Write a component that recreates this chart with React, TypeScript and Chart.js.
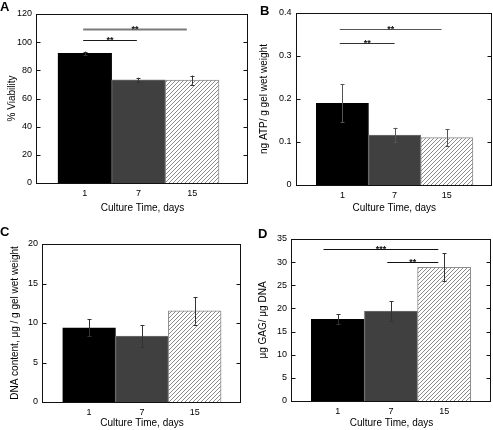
import { useEffect, useRef } from 'react';
import { Chart, registerables } from 'chart.js';

Chart.register(...registerables);

// ---------- data ----------
const categories = ['1', '7', '15'];
const categoryPositions = [1, 2, 3];
const xTitle = 'Culture Time, days';

const viabilityValues = [92.1, 73.2, 73.0];
const viabilityErrors = [1.2, 1.6, 3.3];
const viabilityTicks = [0, 20, 40, 60, 80, 100, 120];
// [from, to, y, label]
const viabilitySig: [number, number, number, string][] = [
  [0.97, 2.9, 109.4, '**'],
  [0.97, 1.97, 101.6, '**'],
];

const atpValues = [0.19, 0.116, 0.11];
const atpErrors = [0.044, 0.017, 0.02];
const atpTicks = [0, 0.1, 0.2, 0.3, 0.4];
const atpSig: [number, number, number, string][] = [
  [0.95, 2.9, 0.362, '**'],
  [0.95, 2.0, 0.3295, '**'],
];

const dnaValues = [9.4, 8.35, 11.55];
const dnaErrors = [1.05, 1.4, 1.75];
const dnaTicks = [0, 5, 10, 15, 20];
const dnaSig: [number, number, number, string][] = [];

const gagValues = [17.65, 19.45, 28.9];
const gagErrors = [1.1, 2.15, 3.0];
const gagTicks = [0, 5, 10, 15, 20, 25, 30, 35];
const gagSig: [number, number, number, string][] = [
  [0.73, 2.89, 32.77, '***'],
  [1.93, 2.89, 29.97, '**'],
];

// ---------- styles / layout ----------
const FONT = "'Liberation Sans', Arial, Helvetica, sans-serif";

type Panel = {
  letter: string;
  yTitle: string;
  values: number[];
  errors: number[];
  ticks: number[];
  sig: [number, number, number, string][];
  box: { x: number; y: number; w: number; h: number };
  yWidth: number;
  xHeight: number;
  padTop: number;
  padRight: number;
  yTitlePad: number;
  xMin: number;
  xMax: number;
  letterPos: [number, number];
  sigColors: string[];
  errColor: string;
};

const panels: Panel[] = [
  {
    letter: 'A', yTitle: '% Viability', values: viabilityValues, errors: viabilityErrors,
    ticks: viabilityTicks, sig: viabilitySig,
    box: { x: 0, y: 0, w: 252, h: 215 }, yWidth: 37, xHeight: 32, padTop: 14, padRight: 4,
    yTitlePad: 6, xMin: 0.11, xMax: 4.04, letterPos: [0, 11],
    sigColors: ['#7a7a7a', '#1a1a1a'], errColor: '#333',
  },
  {
    letter: 'B', yTitle: 'ng ATP/ g gel wet weight', values: atpValues, errors: atpErrors,
    ticks: atpTicks, sig: atpSig,
    box: { x: 252, y: 0, w: 241, h: 215 }, yWidth: 44.5, xHeight: 30, padTop: 13, padRight: 1,
    yTitlePad: 6, xMin: 0.121, xMax: 3.866, letterPos: [8, 15],
    sigColors: ['#555', '#333'], errColor: '#555',
  },
  {
    letter: 'C', yTitle: 'DNA content, \u03bcg / g gel wet weight', values: dnaValues, errors: dnaErrors,
    ticks: dnaTicks, sig: dnaSig,
    box: { x: 0, y: 215, w: 252, h: 215 }, yWidth: 43, xHeight: 28, padTop: 29, padRight: 11,
    yTitlePad: 9.5, xMin: 0.127, xMax: 3.877, letterPos: [0, 21],
    sigColors: [], errColor: '#333',
  },
  {
    letter: 'D', yTitle: '\u03bcg GAG/ \u03bcg DNA', values: gagValues, errors: gagErrors,
    ticks: gagTicks, sig: gagSig,
    box: { x: 252, y: 215, w: 241, h: 215 }, yWidth: 40, xHeight: 29, padTop: 24, padRight: 2,
    yTitlePad: 5.3, xMin: 0.137, xMax: 3.882, letterPos: [6, 23],
    sigColors: ['#111', '#111'], errColor: '#333',
  },
];

function makeHatch(): CanvasPattern | string {
  const c = document.createElement('canvas');
  c.width = 8;
  c.height = 8;
  const g = c.getContext('2d');
  if (!g) return '#fff';
  g.fillStyle = '#fff';
  g.fillRect(0, 0, 8, 8);
  g.strokeStyle = '#8a8a8a';
  g.lineWidth = 1;
  for (const k of [-8, -4, 0, 4, 8]) {
    g.beginPath();
    g.moveTo(k, 8);
    g.lineTo(k + 8, 0);
    g.stroke();
  }
  return g.createPattern(c, 'repeat') ?? '#fff';
}

function makeDecor(p: Panel) {
  return {
    id: 'decor' + p.letter,
    afterDatasetsDraw(chart: any) {
      const ctx: CanvasRenderingContext2D = chart.ctx;
      const xs = chart.scales.x;
      const ys = chart.scales.y;
      const a = chart.chartArea;
      ctx.save();
      // error bars
      ctx.strokeStyle = p.errColor;
      ctx.lineWidth = 1;
      p.values.forEach((v, i) => {
        const x = Math.round(xs.getPixelForValue(categoryPositions[i])) + 0.5;
        const y1 = ys.getPixelForValue(v + p.errors[i]);
        const y2 = ys.getPixelForValue(v - p.errors[i]);
        ctx.beginPath();
        ctx.moveTo(x, y1);
        ctx.lineTo(x, y2);
        ctx.moveTo(x - 2, Math.round(y1) + 0.5);
        ctx.lineTo(x + 2, Math.round(y1) + 0.5);
        ctx.moveTo(x - 2, Math.round(y2) + 0.5);
        ctx.lineTo(x + 2, Math.round(y2) + 0.5);
        ctx.stroke();
      });
      // significance lines
      p.sig.forEach(([from, to, yv, label], k) => {
        const x1 = xs.getPixelForValue(from);
        const x2 = xs.getPixelForValue(to);
        const y = Math.round(ys.getPixelForValue(yv)) + 0.5;
        ctx.strokeStyle = p.sigColors[k] || '#222';
        ctx.lineWidth = k === 0 && p.letter === 'A' ? 1.8 : 1.2;
        ctx.beginPath();
        ctx.moveTo(x1, y);
        ctx.lineTo(x2, y);
        ctx.stroke();
        ctx.fillStyle = '#111';
        ctx.font = `bold 9px ${FONT}`;
        ctx.textAlign = 'center';
        ctx.textBaseline = 'alphabetic';
        ctx.fillText(label, (x1 + x2) / 2, y + 2);
      });
      // frame
      ctx.strokeStyle = '#111';
      ctx.lineWidth = 1;
      const L = Math.round(a.left) - 0.5;
      const T = Math.round(a.top) + 0.5;
      const R = Math.round(a.right) - 0.5;
      const B = Math.round(a.bottom) + 0.5;
      ctx.strokeRect(L, T, R - L, B - T);
      // inner y ticks on both sides
      ctx.beginPath();
      p.ticks.forEach((t) => {
        const y = Math.round(ys.getPixelForValue(t)) + 0.5;
        ctx.moveTo(L, y);
        ctx.lineTo(L + 4, y);
        ctx.moveTo(R, y);
        ctx.lineTo(R - 4, y);
      });
      ctx.stroke();
      // panel letter
      ctx.fillStyle = '#000';
      ctx.font = `bold 13px ${FONT}`;
      ctx.textAlign = 'left';
      ctx.textBaseline = 'alphabetic';
      ctx.fillText(p.letter, p.letterPos[0], p.letterPos[1]);
      ctx.restore();
    },
  };
}

function buildConfig(p: Panel): any {
  const hatch = makeHatch();
  const tickFont = { family: FONT, size: 9 };
  const titleFont = { family: FONT, size: 10 };
  return {
    type: 'bar',
    data: {
      datasets: [
        {
          data: p.values.map((v, i) => ({ x: categoryPositions[i], y: v })),
          backgroundColor: ['#000000', '#404040', hatch],
          borderColor: ['#000000', '#707070', '#8c8c8c'],
          borderWidth: 1,
          categoryPercentage: 1,
          barPercentage: 1,
        },
      ],
    },
    options: {
      animation: false,
      responsive: false,
      devicePixelRatio: 1,
      layout: { padding: { top: p.padTop, right: p.padRight, left: 0, bottom: 0 } },
      plugins: { legend: { display: false }, tooltip: { enabled: false } },
      scales: {
        x: {
          type: 'linear',
          min: p.xMin,
          max: p.xMax,
          offset: false,
          grid: { display: false, drawTicks: false },
          border: { display: false },
          afterBuildTicks: (s: any) => {
            s.ticks = categoryPositions.map((v) => ({ value: v }));
          },
          afterFit: (s: any) => {
            s.height = p.xHeight;
          },
          ticks: {
            callback: (_v: any, i: number) => categories[i],
            padding: 5,
            font: tickFont,
            color: '#000',
            maxRotation: 0,
            autoSkip: false,
          },
          title: {
            display: true,
            text: xTitle,
            font: titleFont,
            color: '#000',
            padding: { top: 0, bottom: 1 },
          },
        },
        y: {
          type: 'linear',
          min: p.ticks[0],
          max: p.ticks[p.ticks.length - 1],
          grid: { display: false, drawTicks: false },
          border: { display: false },
          afterBuildTicks: (s: any) => {
            s.ticks = p.ticks.map((v) => ({ value: v }));
          },
          afterFit: (s: any) => {
            s.width = p.yWidth;
          },
          ticks: {
            callback: (v: any) => String(v),
            padding: 5,
            font: tickFont,
            color: '#000',
          },
          title: {
            display: true,
            text: p.yTitle,
            font: titleFont,
            color: '#000',
            padding: { top: p.yTitlePad, bottom: 0 },
          },
        },
      },
    },
    plugins: [makeDecor(p)],
  };
}

function PanelChart({ panel }: { panel: Panel }) {
  const ref = useRef<HTMLCanvasElement>(null);
  useEffect(() => {
    if (!ref.current) return;
    const chart = new Chart(ref.current, buildConfig(panel));
    return () => chart.destroy();
  }, [panel]);
  return (
    <canvas
      ref={ref}
      width={panel.box.w}
      height={panel.box.h}
      style={{
        position: 'absolute',
        left: panel.box.x,
        top: panel.box.y,
        width: panel.box.w,
        height: panel.box.h,
      }}
    />
  );
}

export default function App() {
  return (
    <div
      style={{
        position: 'fixed',
        left: 0,
        top: 0,
        width: 493,
        height: 430,
        background: '#fff',
        overflow: 'hidden',
      }}
    >
      {panels.map((p) => (
        <PanelChart key={p.letter} panel={p} />
      ))}
    </div>
  );
}
